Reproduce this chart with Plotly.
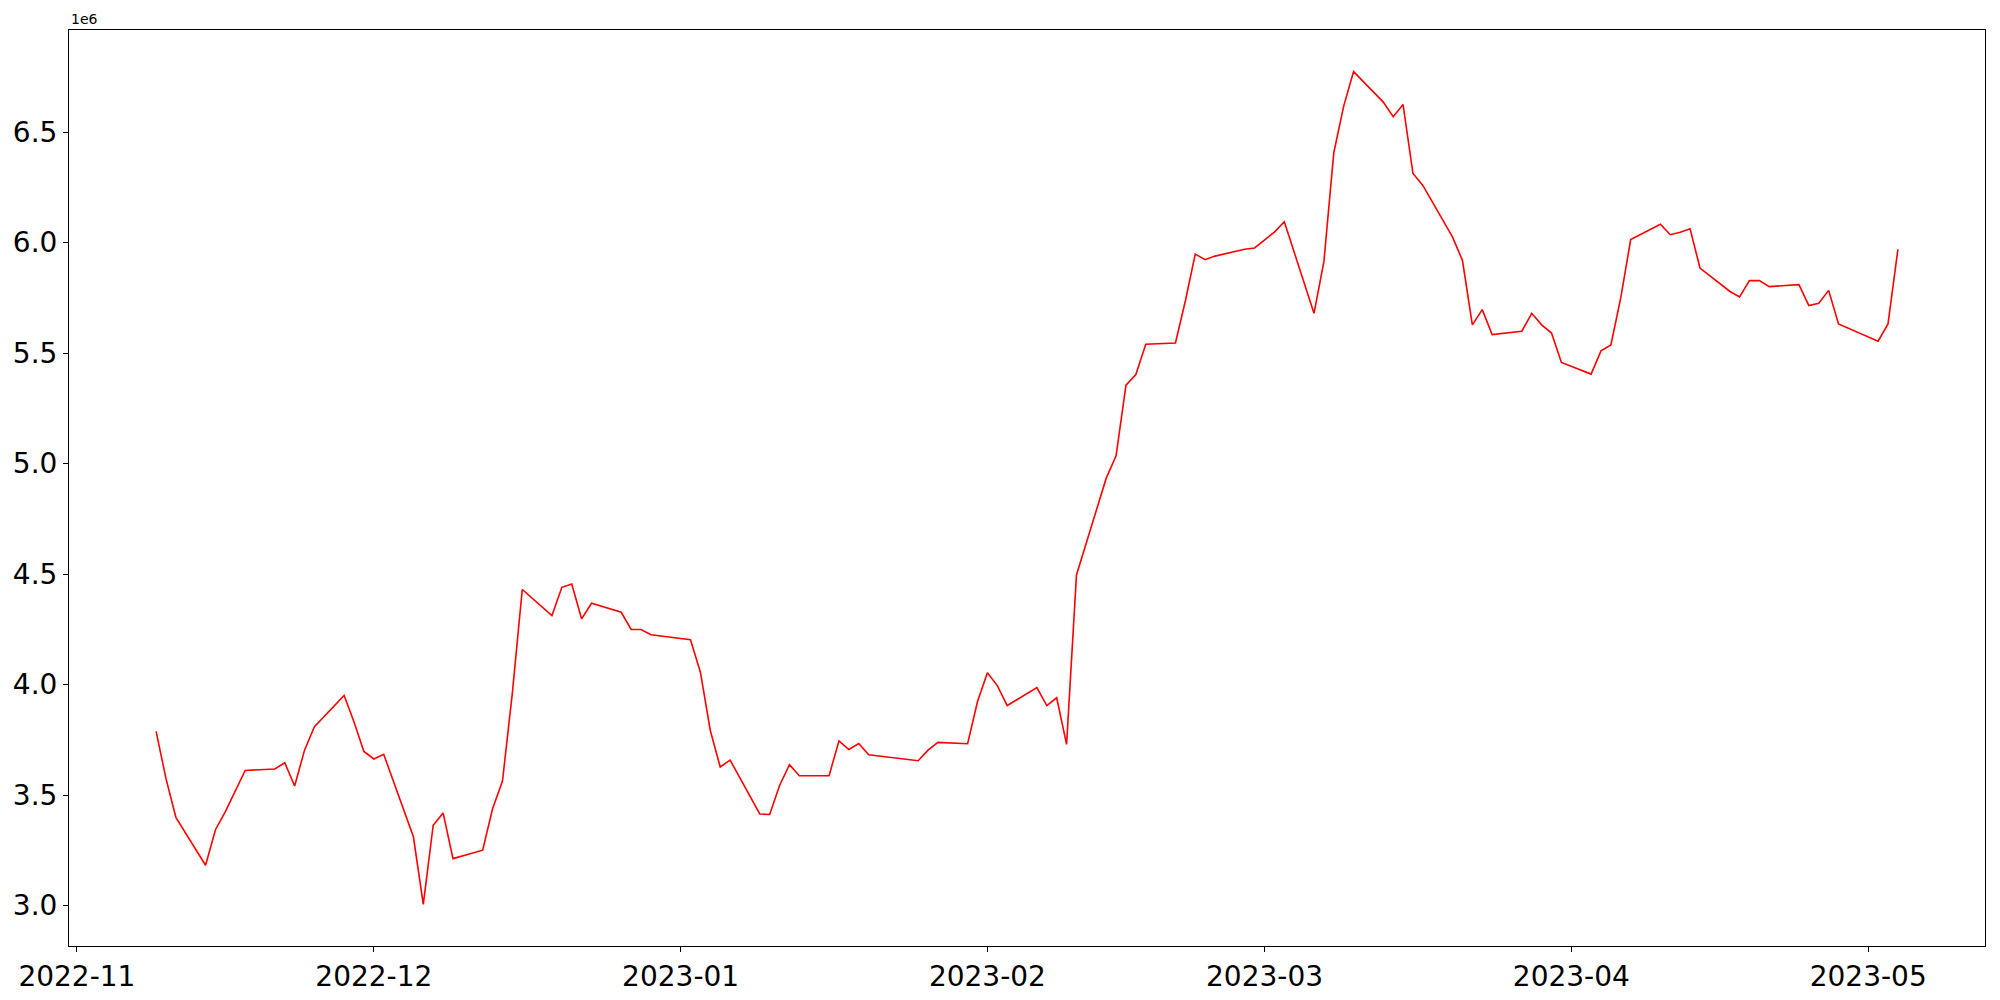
import pandas as pd
import plotly.graph_objects as go

# trading days (KRX calendar) and portfolio value, in units of 1e6
dates = ["2022-11-09", "2022-11-10", "2022-11-11", "2022-11-14", "2022-11-15", "2022-11-16", "2022-11-18",
         "2022-11-21", "2022-11-22", "2022-11-23", "2022-11-24", "2022-11-25", "2022-11-28", "2022-11-29",
         "2022-11-30", "2022-12-01", "2022-12-02", "2022-12-05", "2022-12-06", "2022-12-07", "2022-12-08",
         "2022-12-09", "2022-12-12", "2022-12-13", "2022-12-14", "2022-12-15", "2022-12-16", "2022-12-19",
         "2022-12-20", "2022-12-21", "2022-12-22", "2022-12-23", "2022-12-26", "2022-12-27", "2022-12-28",
         "2022-12-29", "2023-01-02", "2023-01-03", "2023-01-04", "2023-01-05", "2023-01-06", "2023-01-09",
         "2023-01-10", "2023-01-11", "2023-01-12", "2023-01-13", "2023-01-16", "2023-01-17", "2023-01-18",
         "2023-01-19", "2023-01-20", "2023-01-25", "2023-01-26", "2023-01-27", "2023-01-30", "2023-01-31",
         "2023-02-01", "2023-02-02", "2023-02-03", "2023-02-06", "2023-02-07", "2023-02-08", "2023-02-09",
         "2023-02-10", "2023-02-13", "2023-02-14", "2023-02-15", "2023-02-16", "2023-02-17", "2023-02-20",
         "2023-02-21", "2023-02-22", "2023-02-23", "2023-02-24", "2023-02-27", "2023-02-28", "2023-03-02",
         "2023-03-03", "2023-03-06", "2023-03-07", "2023-03-08", "2023-03-09", "2023-03-10", "2023-03-13",
         "2023-03-14", "2023-03-15", "2023-03-16", "2023-03-17", "2023-03-20", "2023-03-21", "2023-03-22",
         "2023-03-23", "2023-03-24", "2023-03-27", "2023-03-28", "2023-03-29", "2023-03-30", "2023-03-31",
         "2023-04-03", "2023-04-04", "2023-04-05", "2023-04-06", "2023-04-07", "2023-04-10", "2023-04-11",
         "2023-04-12", "2023-04-13", "2023-04-14", "2023-04-17", "2023-04-18", "2023-04-19", "2023-04-20",
         "2023-04-21", "2023-04-24", "2023-04-25", "2023-04-26", "2023-04-27", "2023-04-28", "2023-05-02",
         "2023-05-03", "2023-05-04"]

values = [3.788, 3.574, 3.399, 3.182, 3.343, 3.425, 3.611, 3.618, 3.646, 3.541, 3.703, 3.809, 3.950, 3.830,
          3.697, 3.663, 3.684, 3.311, 3.005, 3.363, 3.419, 3.212, 3.250, 3.438, 3.563, 3.962, 4.430, 4.312,
          4.440, 4.455, 4.297, 4.368, 4.327, 4.249, 4.249, 4.225, 4.203, 4.056, 3.792, 3.627, 3.658, 3.414,
          3.412, 3.543, 3.637, 3.587, 3.587, 3.745, 3.706, 3.733, 3.682, 3.655, 3.703, 3.738, 3.732, 3.923,
          4.053, 3.995, 3.905, 3.986, 3.905, 3.940, 3.729, 4.496, 4.933, 5.035, 5.355, 5.403, 5.540, 5.546,
          5.736, 5.948, 5.923, 5.939, 5.970, 5.976, 6.048, 6.095, 5.680, 5.914, 6.407, 6.618, 6.774, 6.636,
          6.570, 6.625, 6.313, 6.259, 6.025, 5.920, 5.628, 5.697, 5.584, 5.599, 5.680, 5.628, 5.591, 5.458,
          5.405, 5.510, 5.537, 5.751, 6.014, 6.083, 6.036, 6.047, 6.063, 5.885, 5.780, 5.754, 5.828, 5.828,
          5.801, 5.810, 5.715, 5.726, 5.784, 5.632, 5.554, 5.632, 5.970]

y_ticks = [3.0, 3.5, 4.0, 4.5, 5.0, 5.5, 6.0, 6.5]

df = pd.DataFrame({'date': pd.to_datetime(dates), 'value': values})

# matplotlib-like 5% margins
x0, x1 = df.date.min(), df.date.max()
xpad = (x1 - x0) * 0.05
y0, y1 = df.value.min(), df.value.max()
ypad = (y1 - y0) * 0.05

fig = go.Figure()

fig.add_trace(go.Scatter(x=df.date, y=df.value, mode='lines',
                         line=dict(color='red', width=1.6), showlegend=False))

axis_style = dict(
    showline=True,
    mirror=True,
    linecolor='black',
    linewidth=1,
    showgrid=False,
    zeroline=False,
    automargin=False,
    ticks='outside',
    ticklen=5,
    tickwidth=1,
    tickcolor='black',
    tickfont=dict(family='DejaVu Sans', size=28, color='black'),
)

# page body has an 8px margin, so the figure is offset by 8px
fig.update_layout(
    width=2000,
    height=1000,
    paper_bgcolor='white',
    plot_bgcolor='white',
    margin=dict(l=61, r=23, t=22, b=62),
    xaxis=dict(axis_style, range=[x0 - xpad, x1 + xpad], tick0='2022-11-01', dtick='M1',
               tickformat='%Y-%m'),
    yaxis=dict(axis_style, range=[y0 - ypad, y1 + ypad], tickvals=y_ticks,
               ticktext=['%.1f' % v for v in y_ticks]),
)

fig.add_annotation(xref='paper', yref='paper', x=0, y=1, xanchor='left', yanchor='bottom',
                   text='1e6', showarrow=False, yshift=1,
                   font=dict(family='DejaVu Sans', size=14, color='black'))

fig.write_html("out.html")
